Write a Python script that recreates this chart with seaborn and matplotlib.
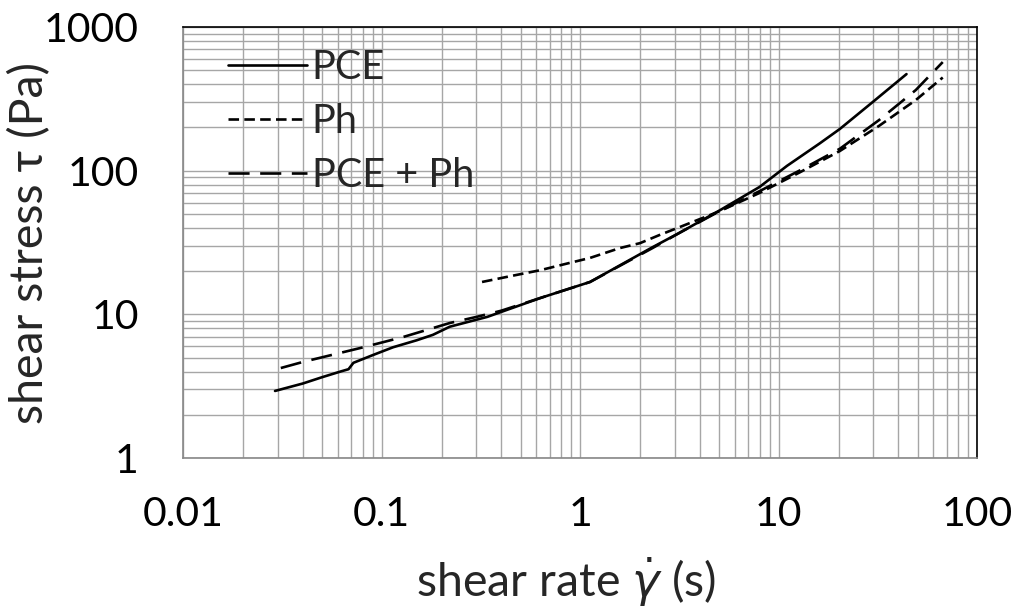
import numpy as np
import pandas as pd
import matplotlib
matplotlib.use("Agg")
import matplotlib.pyplot as plt
import seaborn as sns
from matplotlib.ticker import LogLocator, FixedLocator, FixedFormatter, NullFormatter

# ---- data ----
pce_x = [0.029, 0.04, 0.05, 0.062, 0.068, 0.072, 0.09, 0.114, 0.15, 0.181, 0.22, 0.34,
         0.63, 1.12, 2.32, 3.17, 5.05, 8.0, 11.0, 16.1, 20.3, 29.7, 44.0]
pce_y = [2.93, 3.3, 3.65, 4.0, 4.15, 4.6, 5.2, 5.9, 6.6, 7.2, 8.2, 9.6,
         13.0, 16.8, 29.4, 37.0, 53.0, 77.0, 108.0, 155.0, 195.0, 300.0, 470.0]

ph_x = [0.32, 0.45, 0.63, 0.85, 1.12, 1.58, 2.0, 2.5, 3.17, 5.0, 8.0, 12.7, 20.3, 32.0, 49.0, 67.0]
ph_y = [16.8, 18.5, 20.3, 22.5, 24.7, 28.9, 31.3, 35.6, 40.5, 52.0, 70.0, 97.0, 137.0, 205.0, 310.0, 445.0]

mix_x = [0.031, 0.04, 0.078, 0.128, 0.22, 0.30, 0.40, 0.63, 1.12, 2.32, 3.17, 5.0, 8.0, 12.7, 20.3, 32.0, 49.0, 67.0]
mix_y = [4.23, 4.66, 5.83, 6.95, 8.7, 9.6, 10.6, 13.0, 16.8, 29.0, 37.0, 52.0, 72.0, 100.0, 142.0, 225.0, 364.0, 570.0]

series_names = ["PCE", "Ph", "PCE + Ph"]
x_ticks = [0.01, 0.1, 1, 10, 100]
x_tick_labels = ["0.01", "0.1", "1", "10", "100"]
y_ticks = [1, 10, 100, 1000]
y_tick_labels = ["1", "10", "100", "1000"]

sns.set_theme(style="white")
plt.rcParams["font.family"] = ["Lato", "DejaVu Sans"]
plt.rcParams["mathtext.fontset"] = "dejavusans"

fig = plt.figure(figsize=(10.18, 6.12), dpi=100)
ax = fig.add_axes([0.18, 0.2516, 0.78, 0.7043])

styles = ["-", (0, (4, 2)), (0, (8, 4))]
for name, xs, ys, ls in zip(series_names, [pce_x, ph_x, mix_x], [pce_y, ph_y, mix_y], styles):
    df = pd.DataFrame({"x": xs, "y": ys})
    sns.lineplot(data=df, x="x", y="y", ax=ax, color="black", linewidth=1.9,
                 linestyle=ls, label=name, sort=False, estimator=None)

ax.set_xscale("log")
ax.set_yscale("log")
ax.set_xlim(0.01, 100)
ax.set_ylim(1, 1000)

ax.xaxis.set_major_locator(FixedLocator(x_ticks))
ax.xaxis.set_major_formatter(FixedFormatter(x_tick_labels))
ax.yaxis.set_major_locator(FixedLocator(y_ticks))
ax.yaxis.set_major_formatter(FixedFormatter(y_tick_labels))
ax.xaxis.set_minor_locator(LogLocator(base=10, subs=np.arange(2, 10), numticks=20))
ax.yaxis.set_minor_locator(LogLocator(base=10, subs=np.arange(2, 10), numticks=20))
ax.xaxis.set_minor_formatter(NullFormatter())
ax.yaxis.set_minor_formatter(NullFormatter())

ax.grid(True, which="both", color="#a6a6a6", linewidth=1.0)
ax.set_axisbelow(True)

ax.tick_params(axis="both", which="major", direction="out", length=8, width=1,
               color="#888888", labelsize=29.5, labelcolor="black")
ax.tick_params(axis="both", which="minor", length=0)
ax.tick_params(axis="x", which="major", pad=19)
ax.tick_params(axis="y", which="major", pad=24)

for side in ["left", "bottom"]:
    ax.spines[side].set_color("#888888")
    ax.spines[side].set_linewidth(1.2)
for side in ["top", "right"]:
    ax.spines[side].set_color("black")
    ax.spines[side].set_linewidth(1.2)

ax.set_xlabel(r"shear rate $\dot{\gamma}$ (s)", fontsize=33.5)
ax.xaxis.set_label_coords(0.482, -0.226)
ax.set_ylabel("shear stress τ (Pa)", fontsize=33.5)
ax.yaxis.set_label_coords(-0.166, 0.5)

leg = ax.legend(loc="upper left", bbox_to_anchor=(0.036, 0.985), frameon=False,
                fontsize=28.5, handlelength=2.0, handletextpad=0.12, labelspacing=0.42,
                borderaxespad=0.0)

fig.savefig("out.png", dpi=100)
